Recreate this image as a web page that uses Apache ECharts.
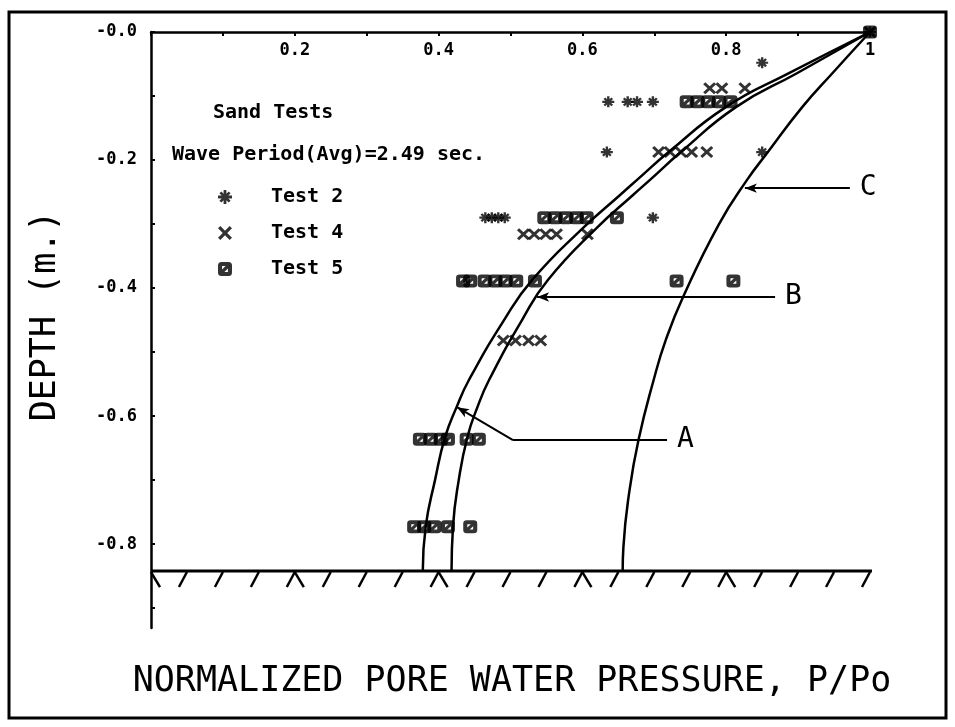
<!DOCTYPE html>
<html>
<head>
<meta charset="utf-8">
<title>Normalized pore water pressure vs depth</title>
<script src="https://cdn.jsdelivr.net/npm/echarts@6/dist/echarts.min.js"></script>
<style>
  html, body { margin: 0; padding: 0; background: #fff; }
  #myChart { width: 955px; height: 727px; }
</style>
</head>
<body>
<div id="myChart"></div>
<script>
// values: [P/Po, depth (m)]
const test2 = [
  [1, 0], [0.85, -0.048],
  [0.636, -0.109], [0.663, -0.109], [0.676, -0.109], [0.698, -0.109],
  [0.634, -0.1875], [0.85, -0.1875],
  [0.465, -0.29], [0.474, -0.29], [0.483, -0.29], [0.492, -0.29], [0.698, -0.29]
];
const test4 = [
  [1, 0],
  [0.777, -0.088], [0.794, -0.088], [0.826, -0.088],
  [0.706, -0.1875], [0.722, -0.1875], [0.737, -0.1875], [0.752, -0.1875], [0.773, -0.1875],
  [0.518, -0.316], [0.533, -0.316], [0.549, -0.316], [0.564, -0.316], [0.607, -0.316],
  [0.49, -0.482], [0.507, -0.482], [0.525, -0.482], [0.542, -0.482]
];
const test5 = [
  [1, 0],
  [0.745, -0.109], [0.76, -0.109], [0.775, -0.109], [0.79, -0.109], [0.806, -0.109],
  [0.547, -0.29], [0.562, -0.29], [0.577, -0.29], [0.592, -0.29], [0.606, -0.29], [0.648, -0.29],
  [0.434, -0.389], [0.444, -0.389], [0.464, -0.389], [0.479, -0.389], [0.493, -0.389],
  [0.508, -0.389], [0.534, -0.389], [0.731, -0.389], [0.81, -0.389],
  [0.374, -0.636], [0.389, -0.636], [0.403, -0.636], [0.413, -0.636], [0.439, -0.636], [0.456, -0.636],
  [0.366, -0.773], [0.38, -0.773], [0.394, -0.773], [0.413, -0.773], [0.444, -0.773]
];

// theoretical curves A, B, C
const curveA = [
  [1, 0], [0.888, -0.064], [0.800, -0.117], [0.720, -0.1875], [0.676, -0.231], [0.652, -0.255],
  [0.601, -0.306], [0.530, -0.3875], [0.491, -0.45], [0.442, -0.544], [0.425, -0.586],
  [0.409, -0.633], [0.395, -0.7], [0.382, -0.773], [0.378, -0.842]
];
const curveB = [
  [1, 0], [0.899, -0.064], [0.814, -0.117], [0.737, -0.1875], [0.694, -0.231], [0.670, -0.255],
  [0.620, -0.306], [0.552, -0.3875], [0.516, -0.45], [0.470, -0.544], [0.454, -0.586],
  [0.440, -0.633], [0.428, -0.7], [0.420, -0.773], [0.418, -0.842]
];
const curveC = [
  [1, 0], [0.948, -0.064], [0.906, -0.117], [0.858, -0.1875], [0.829, -0.231], [0.790, -0.3],
  [0.740, -0.414], [0.716, -0.481], [0.699, -0.544], [0.678, -0.6375], [0.665, -0.72],
  [0.657, -0.805], [0.656, -0.842]
];

// leader lines for the curve labels
const leaderA = [[0.4256, -0.586], [0.5035, -0.6375], [0.7177, -0.6375]];
const leaderB = [[0.537, -0.414], [0.868, -0.414]];
const leaderC = [[0.826, -0.244], [0.972, -0.244]];

// ground (bed) line and its hatching
const groundDepth = -0.842;
const groundSpan = [0, 1.005];
const hatchX = [0, 0.05, 0.1, 0.15, 0.2, 0.25, 0.3, 0.35, 0.4, 0.45, 0.5,
  0.55, 0.6, 0.65, 0.7, 0.75, 0.8, 0.85, 0.9, 0.95, 1];
const hatchKind = ['back', 'slash', 'slash', 'slash', 'peak', 'slash', 'slash', 'slash', 'peak', 'slash', 'slash',
  'slash', 'peak', 'slash', 'slash', 'slash', 'peak', 'slash', 'slash', 'slash', 'slash'];

// axis ticks / labels
const xLabelValues = [0.2, 0.4, 0.6, 0.8, 1];
const xTickValues = [0, 0.1, 0.2, 0.3, 0.4, 0.5, 0.6, 0.7, 0.8, 0.9, 1];
const yLabelValues = [0, -0.2, -0.4, -0.6, -0.8];
const yTickValues = [0, -0.1, -0.2, -0.3, -0.4, -0.5, -0.6, -0.7, -0.8, -0.9];

const starIcon = "path://M4,0h2v10h-2z M0,4h10v2h-10z M1,2.4L2.4,1L9,7.6L7.6,9z M7.6,1L9,2.4L2.4,9L1,7.6z";
const crossIcon = "path://M0,2L2,0L12,10L10,12z M10,0L12,2L2,12L0,10z";
const zeroIcon = "path://M3,0H9Q12,0 12,3V9Q12,12 9,12H3Q0,12 0,9V3Q0,0 3,0Z M3.5,3.5L3.5,6.5L6.5,3.5Z M8.5,8.5L8.5,5.5L5.5,8.5Z";

const plotFont = "'DejaVu Sans Mono', monospace";

function leaderLine(points, name) {
  let data = [];
  for (let i = 0; i < points.length - 1; i++) {
    let last = i === points.length - 2;
    data.push([
      { coord: points[i], symbol: i === 0 ? "arrow" : "none" },
      { coord: points[i + 1], symbol: "none", label: { show: last, formatter: name } }
    ]);
  }
  return {
    silent: true,
    symbolSize: [7, 12],
    lineStyle: { color: "#000", width: 2, type: "solid" },
    label: {
      position: "end",
      distance: 10,
      color: "#000",
      fontFamily: plotFont,
      fontSize: 28
    },
    data: data
  };
}

function curveSeries(name, data, leader) {
  return {
    name: name,
    type: "line",
    data: data,
    smooth: 0.5,
    symbol: "none",
    clip: false,
    lineStyle: { color: "#000", width: 2.5 },
    markLine: leaderLine(leader, name),
    z: 3
  };
}

let chart = echarts.init(document.getElementById("myChart"));
let option = {
  backgroundColor: "#fff",
  animation: false,
  grid: { left: 151, top: 32, width: 719, height: 596 },
  legend: {
    orient: "vertical",
    left: 213,
    top: 182,
    itemWidth: 14,
    itemHeight: 14,
    itemGap: 16,
    selectedMode: false,
    textStyle: {
      color: "#000",
      fontFamily: plotFont,
      fontWeight: "bold",
      fontSize: 20,
      lineHeight: 20,
      padding: [0, 0, 0, 34]
    },
    data: [
      { name: "Test 2", icon: starIcon },
      { name: "Test 4", icon: crossIcon },
      { name: "Test 5", icon: zeroIcon }
    ]
  },
  xAxis: {
    type: "value",
    position: "top",
    min: 0,
    max: 1,
    axisLine: { onZero: false, lineStyle: { color: "#000", width: 2.5 } },
    axisTick: { inside: true, length: 4, customValues: xTickValues, lineStyle: { color: "#000", width: 2 } },
    axisLabel: {
      inside: true,
      margin: 10,
      customValues: xLabelValues,
      color: "#000",
      fontFamily: plotFont,
      fontWeight: "bold",
      fontSize: 17,
      formatter: v => (v === 1 ? "1" : v.toFixed(1))
    },
    splitLine: { show: false }
  },
  yAxis: {
    type: "value",
    min: -0.931,
    max: 0,
    axisLine: { onZero: false, lineStyle: { color: "#000", width: 2.5 } },
    axisTick: { inside: true, length: 4, customValues: yTickValues, lineStyle: { color: "#000", width: 2 } },
    axisLabel: {
      margin: 14,
      customValues: yLabelValues,
      color: "#000",
      fontFamily: plotFont,
      fontWeight: "bold",
      fontSize: 17,
      formatter: v => (v === 0 ? "-0.0" : v.toFixed(1))
    },
    splitLine: { show: false }
  },
  graphic: [
    // outer frame
    {
      type: "rect",
      shape: { x: 9, y: 12, width: 937, height: 706 },
      style: { fill: null, stroke: "#000", lineWidth: 3 }
    },
    {
      type: "text",
      left: 213,
      top: 103,
      style: { text: "Sand Tests", fill: "#000", font: "bold 20px " + plotFont }
    },
    {
      type: "text",
      left: 172,
      top: 145,
      style: { text: "Wave Period(Avg)=2.49 sec.", fill: "#000", font: "bold 20px " + plotFont }
    },
    {
      type: "text",
      x: 512,
      y: 682,
      style: {
        text: "NORMALIZED PORE WATER PRESSURE, P/Po",
        fill: "#000",
        font: "35px " + plotFont,
        align: "center",
        verticalAlign: "middle"
      }
    },
    {
      type: "text",
      x: 46,
      y: 316,
      rotation: Math.PI / 2,
      style: {
        text: "DEPTH (m.)",
        fill: "#000",
        font: "35px " + plotFont,
        align: "center",
        verticalAlign: "middle"
      }
    }
  ],
  series: [
    curveSeries("A", curveA, leaderA),
    curveSeries("B", curveB, leaderB),
    curveSeries("C", curveC, leaderC),
    {
      name: "ground",
      type: "line",
      data: groundSpan.map(x => [x, groundDepth]),
      symbol: "none",
      clip: false,
      lineStyle: { color: "#000", width: 3 }
    },
    {
      name: "hatch",
      type: "custom",
      data: hatchX.map(x => [x, groundDepth]),
      renderItem: function(params, api) {
        let pt = api.coord([api.value(0), api.value(1)]);
        let kind = hatchKind[params.dataIndex];
        let legs = kind === "peak" ? [-8, 9] : kind === "back" ? [9] : [-8];
        return {
          type: "group",
          children: legs.map(dx => ({
            type: "line",
            shape: { x1: pt[0], y1: pt[1] + 1, x2: pt[0] + dx, y2: pt[1] + 16 },
            style: { stroke: "#000", lineWidth: 2.5 }
          }))
        };
      }
    },
    {
      name: "Test 2",
      type: "scatter",
      data: test2,
      symbol: starIcon,
      symbolSize: [12, 11],
      itemStyle: { color: "#000" },
      z: 4
    },
    {
      name: "Test 4",
      type: "scatter",
      data: test4,
      symbol: crossIcon,
      symbolSize: [13, 12],
      itemStyle: { color: "#000" },
      z: 4
    },
    {
      name: "Test 5",
      type: "scatter",
      data: test5,
      symbol: zeroIcon,
      symbolSize: [14, 13],
      itemStyle: { color: "#000" },
      z: 4
    }
  ]
};
chart.setOption(option);
</script>
</body>
</html>
